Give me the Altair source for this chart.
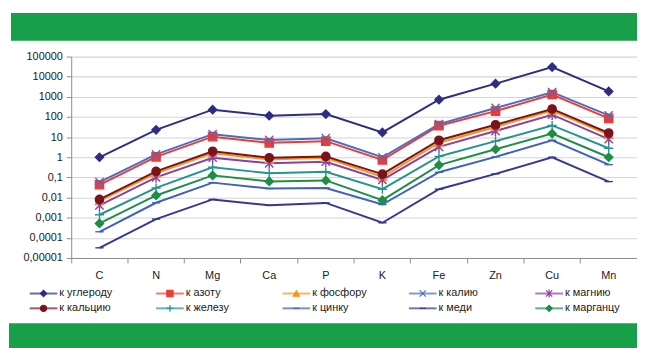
import altair as alt
import pandas as pd

# ---------------- data ----------------
elements = ["C", "N", "Mg", "Ca", "P", "K", "Fe", "Zn", "Cu", "Mn"]
series_names = ["к углероду", "к азоту", "к фосфору", "к калию", "к магнию",
                "к кальцию", "к железу", "к цинку", "к меди", "к марганцу"]

v_carbon     = [1.0, 23, 230, 115, 140, 17, 720, 4500, 30000, 1850]
v_nitrogen   = [0.043, 1.05, 10.5, 5.2, 6.3, 0.74, 37, 195, 1300, 85]
v_phosphorus = [0.0068, 0.16, 1.6, 0.78, 0.95, 0.105, 5.3, 32, 210, 13]
v_potassium  = [0.058, 1.4, 14, 7.2, 8.8, 1.0, 44, 280, 1700, 120]
v_magnesium  = [0.0041, 0.1, 0.95, 0.5, 0.6, 0.075, 3.3, 20, 130, 8]
v_calcium    = [0.0081, 0.2, 2.0, 0.95, 1.1, 0.145, 7.0, 41, 250, 16]
v_iron       = [0.0014, 0.03, 0.32, 0.16, 0.19, 0.026, 1.1, 6.3, 38, 2.8]
v_zinc       = [0.0002, 0.0055, 0.055, 0.028, 0.03, 0.0045, 0.18, 1.05, 7.0, 0.43]
v_copper     = [0.000032, 0.00085, 0.0081, 0.0041, 0.0054, 0.00056, 0.026, 0.15, 1.0, 0.062]
v_manganese  = [0.00052, 0.0127, 0.126, 0.063, 0.071, 0.0074, 0.41, 2.5, 15, 1.0]

all_values = [v_carbon, v_nitrogen, v_phosphorus, v_potassium, v_magnesium,
              v_calcium, v_iron, v_zinc, v_copper, v_manganese]

y_ticks = [1e-5, 1e-4, 1e-3, 1e-2, 1e-1, 1, 10, 100, 1000, 10000, 100000]

# ---------------- styles ----------------
colors = ["#2E2D84", "#EE3B33", "#F7941E", "#4B6CC4", "#8B3FA5",
          "#7A1419", "#25958E", "#4060BE", "#353892", "#1E8E45"]
shapes = ["diamond", "square", "triangle-up",
          "M-1,-1L1,1M-1,1L1,-1",
          "M-1,-1L1,1M-1,1L1,-1M0,-1.3L0,1.3",
          "circle",
          "M-1.1,0L1.1,0M0,-1.1L0,1.1",
          "M-1,0L1,0",
          "M-1,0L1,0",
          "diamond"]
GREEN = "#179F4A"
FONT = "Liberation Sans"

rows = []
for s, vals in zip(series_names, all_values):
    for e, v in zip(elements, vals):
        rows.append({"series": s, "element": e, "value": v})
df = pd.DataFrame(rows)

legend_df = pd.DataFrame({
    "series": series_names,
    "col": [i % 5 for i in range(len(series_names))],
    "row": [i // 5 for i in range(len(series_names))],
})

color_scale = alt.Scale(domain=series_names, range=colors)
shape_scale = alt.Scale(domain=series_names, range=shapes)

W, H = 573, 204

x_enc = alt.X("element:N", sort=elements,
              scale=alt.Scale(type="band", domain=elements, paddingInner=0, paddingOuter=0),
              axis=alt.Axis(title=None, labelAngle=0, bandPosition=0, grid=False,
                            tickSize=5, labelPadding=7, labelFontSize=11, labelFont=FONT,
                            labelColor="#1A1A1A", domainColor="#8C8C8C", tickColor="#8C8C8C"))
y_enc = alt.Y("value:Q",
              scale=alt.Scale(type="log", domain=[1e-5, 1e5], nice=False),
              axis=alt.Axis(title=None, values=y_ticks,
                            labelExpr="replace(format(datum.value, '~g'), '.', ',')",
                            grid=True, gridColor="#D4D4D4", gridWidth=1.2,
                            tickSize=5, labelPadding=4, labelFontSize=11, labelFont=FONT,
                            labelColor="#1A1A1A", domainColor="#8C8C8C", tickColor="#8C8C8C"))

lines = alt.Chart(df).mark_line(strokeWidth=2).encode(
    x=x_enc, y=y_enc,
    color=alt.Color("series:N", scale=color_scale, legend=None),
)
points = alt.Chart(df).mark_point(filled=True, size=70, strokeWidth=1.4, opacity=1).encode(
    x=x_enc, y=y_enc,
    fill=alt.Fill("series:N", scale=color_scale, legend=None),
    stroke=alt.Stroke("series:N", scale=color_scale, legend=None),
    shape=alt.Shape("series:N", scale=shape_scale, legend=None),
)
main = alt.layer(lines, points)

lx = alt.X("col:Q", scale=alt.Scale(domain=[0, 4], range=[-28, 484], zero=False, nice=False), axis=None)
ly = alt.Y("row:Q", scale=alt.Scale(domain=[0, 1], range=[240, 255], zero=False, nice=False), axis=None)

leg_line = alt.Chart(legend_df).mark_tick(orient="horizontal", size=28, thickness=2).encode(
    x=lx, y=ly,
    color=alt.Color("series:N", scale=color_scale, legend=None),
)
leg_pts = alt.Chart(legend_df).mark_point(filled=True, size=40, strokeWidth=1.2, opacity=1).encode(
    x=lx, y=ly,
    fill=alt.Fill("series:N", scale=color_scale, legend=None),
    stroke=alt.Stroke("series:N", scale=color_scale, legend=None),
    shape=alt.Shape("series:N", scale=shape_scale, legend=None),
)
leg_text = alt.Chart(legend_df).mark_text(align="left", baseline="middle", dx=16,
                                          fontSize=11, font=FONT, color="#1A1A1A").encode(
    x=lx, y=ly, text="series:N",
)
legend = alt.layer(leg_line, leg_pts, leg_text)

one = pd.DataFrame({"k": [0]})
band_top = alt.Chart(one).mark_rect(color=GREEN).encode(
    x=alt.value(-61), x2=alt.value(W + 10), y=alt.value(-44), y2=alt.value(-16))
band_bottom = alt.Chart(one).mark_rect(color=GREEN).encode(
    x=alt.value(-63), x2=alt.value(W + 10), y=alt.value(270), y2=alt.value(300))

chart = alt.layer(band_top, band_bottom, main, legend).resolve_scale(
    x="independent", y="independent"
).properties(
    width=W, height=H,
    autosize=alt.AutoSizeParams(type="none"),
    padding={"left": 64, "top": 47, "right": 0, "bottom": 89},
    background="white",
).configure_view(strokeWidth=0)

chart.save("out.html", embed_options={"renderer": "svg", "actions": False})
